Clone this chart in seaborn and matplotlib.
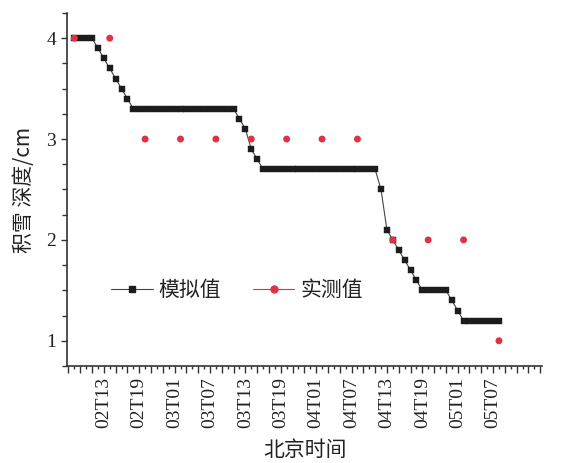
import matplotlib
matplotlib.use("Agg")
import matplotlib.pyplot as plt
from matplotlib.lines import Line2D
from matplotlib.ticker import MultipleLocator, FixedLocator, FixedFormatter
import seaborn as sns
import pandas as pd

# hours counted from 02T00 (Beijing time)
sim_hours = list(range(8, 81))
sim_depth = ([4.0] * 4 + [3.9, 3.8, 3.7, 3.6, 3.5, 3.4] + [3.3] * 18 +
             [3.2, 3.1, 2.9, 2.8] + [2.7] * 20 + [2.5, 2.1, 2.0, 1.9, 1.8, 1.7, 1.6] +
             [1.5] * 5 + [1.4, 1.3] + [1.2] * 7)
obs_hours = [8, 14, 20, 26, 32, 38, 44, 50, 56, 62, 68, 74, 80]
obs_depth = [4.0, 4.0, 3.0, 3.0, 3.0, 3.0, 3.0, 3.0, 3.0, 2.0, 2.0, 2.0, 1.0]
tick_hours = [13, 19, 25, 31, 37, 43, 49, 55, 61, 67, 73, 79]
tick_labels = ["02T13", "02T19", "03T01", "03T07", "03T13", "03T19",
               "04T01", "04T07", "04T13", "04T19", "05T01", "05T07"]
series_names = ["模拟值", "实测值"]

sim_df = pd.DataFrame({"h": sim_hours, "d": sim_depth})
obs_df = pd.DataFrame({"h": obs_hours, "d": obs_depth})

sns.set_style("white")
plt.rcParams['font.family'] = ['Liberation Serif', 'Noto Sans CJK SC', 'DejaVu Sans']
plt.rcParams['axes.unicode_minus'] = False

BLACK = "#1c1c1c"
RED = "#dd3344"
CJK = ['Noto Sans CJK SC', 'DejaVu Sans']

fig = plt.figure(figsize=(5.81, 4.63), dpi=100)
ax = fig.add_axes([0.1153, 0.2095, 0.8176, 0.7625])

sns.lineplot(data=sim_df, x="h", y="d", ax=ax, color="#444444", linewidth=0.8,
             marker="s", markersize=5.0, markerfacecolor=BLACK,
             markeredgecolor=BLACK, markeredgewidth=0.3, zorder=3)
sns.scatterplot(data=obs_df, x="h", y="d", ax=ax, color=RED, s=25,
                edgecolor="none", zorder=4)

ax.set_xlim(6.75, 87.3)
ax.set_ylim(0.75, 4.25)

ax.xaxis.set_major_locator(FixedLocator(list(range(7, 88, 2))))
ax.xaxis.set_minor_locator(FixedLocator(list(range(8, 88, 2))))
lab_map = dict(zip(tick_hours, tick_labels))
ax.xaxis.set_major_formatter(FixedFormatter([lab_map.get(h, "") for h in range(7, 88, 2)]))
ax.yaxis.set_major_locator(MultipleLocator(1))
ax.yaxis.set_minor_locator(MultipleLocator(0.25))

ax.tick_params(axis="x", which="major", direction="out", length=5, width=1.0,
               colors="#333333", labelsize=14, labelrotation=90, pad=3,
               labelcolor="#222222", bottom=True)
ax.tick_params(axis="x", which="minor", direction="out", length=2.5, width=1.0,
               colors="#333333", bottom=True)
ax.tick_params(axis="y", which="major", direction="out", length=4, width=1.0,
               colors="#333333", labelsize=14, pad=4, labelcolor="#222222", left=True)
ax.tick_params(axis="y", which="minor", direction="out", length=3.5, width=1.0,
               colors="#333333", left=True)

for side in ["top", "right"]:
    ax.spines[side].set_visible(False)
for side in ["left", "bottom"]:
    ax.spines[side].set_color("#333333")
    ax.spines[side].set_linewidth(1.2)

ax.set_xlabel("北京时间", fontsize=15, family=CJK, color="#222222", labelpad=8)
ax.set_ylabel("积雪 深度/cm", fontsize=15, family=CJK, color="#222222", labelpad=8)

handles = [
    Line2D([0], [0], color="#444444", lw=0.8, marker="s", markersize=5.0,
           markerfacecolor=BLACK, markeredgecolor=BLACK),
    Line2D([0], [0], color=RED, lw=0.8, marker="o", markersize=5,
           markerfacecolor=RED, markeredgecolor=RED),
]
leg = ax.legend(handles, series_names, loc="center left", ncol=2,
                bbox_to_anchor=(0.075, 0.215), frameon=False,
                prop={"family": CJK, "size": 15}, handlelength=2.0,
                handletextpad=0.3, columnspacing=1.5, borderaxespad=0)
for t in leg.get_texts():
    t.set_color("#222222")

fig.savefig("out.png", dpi=100)
